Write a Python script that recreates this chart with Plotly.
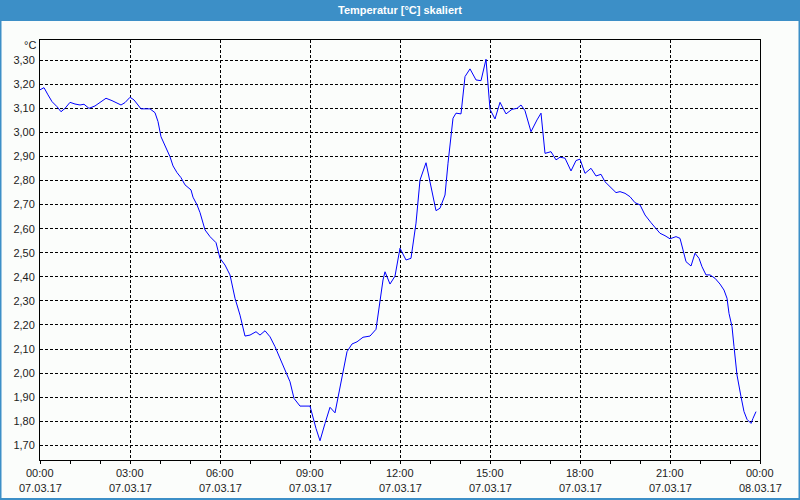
import plotly.graph_objects as go

# ---- data -------------------------------------------------------------
date_str = "2017-03-07"
times = ["00:00","00:08","00:16","00:24","00:34","00:42","00:50","01:00","01:10","01:20",
         "01:28","01:38","01:50","02:02","02:12","02:24","02:32","02:42","02:50","03:00",
         "03:08","03:14","03:22","03:30","03:40","03:50","03:56","04:02","04:10","04:20",
         "04:26","04:34","04:42","04:50","05:02","05:06","05:14","05:20","05:30","05:40",
         "05:52","06:00","06:10","06:20","06:30","06:40","06:50","07:00","07:12","07:20",
         "07:30","07:40","07:50","08:00","08:10","08:20","08:28","08:40","08:50","09:00",
         "09:12","09:20","09:30","09:40","09:50","09:56","10:06","10:14","10:24","10:34",
         "10:46","11:00","11:12","11:18","11:26","11:30","11:40","11:50","12:00","12:12",
         "12:22","12:32","12:40","12:52","13:00","13:12","13:20","13:30","13:36","13:46",
         "13:52","14:02","14:10","14:20","14:32","14:42","14:52","15:00","15:10","15:20",
         "15:32","15:44","15:54","16:02","16:10","16:22","16:34","16:42","16:50","17:02",
         "17:12","17:20","17:30","17:42","17:52","18:00","18:10","18:22","18:32","18:42",
         "18:50","19:00","19:12","19:20","19:30","19:40","19:50","20:00","20:10","20:22",
         "20:32","20:40","20:50","21:00","21:12","21:20","21:26","21:32","21:42","21:50",
         "21:58","22:04","22:12","22:20","22:30","22:40","22:48","22:54","22:58","23:04",
         "23:08","23:14","23:22","23:28","23:34","23:42","23:46","23:52"]
temps = [3.177,3.186,3.156,3.128,3.107,3.086,3.100,3.125,3.118,3.114,
         3.117,3.100,3.110,3.128,3.142,3.132,3.125,3.114,3.124,3.146,
         3.135,3.121,3.098,3.098,3.098,3.082,3.045,2.982,2.944,2.899,
         2.861,2.833,2.812,2.782,2.761,2.731,2.699,2.667,2.595,2.567,
         2.542,2.477,2.449,2.408,2.311,2.241,2.154,2.158,2.172,2.158,
         2.176,2.151,2.110,2.061,2.013,1.964,1.895,1.863,1.863,1.863,
         1.770,1.719,1.791,1.858,1.835,1.902,2.013,2.089,2.121,2.130,
         2.149,2.154,2.182,2.276,2.387,2.421,2.370,2.403,2.519,2.470,
         2.477,2.623,2.802,2.874,2.795,2.675,2.685,2.740,2.872,3.059,
         3.080,3.077,3.232,3.264,3.218,3.215,3.304,3.096,3.056,3.125,
         3.077,3.096,3.100,3.114,3.090,3.003,3.052,3.080,2.913,2.920,
         2.886,2.897,2.893,2.840,2.883,2.889,2.830,2.851,2.819,2.826,
         2.795,2.775,2.750,2.754,2.747,2.733,2.708,2.699,2.657,2.625,
         2.598,2.581,2.571,2.558,2.567,2.560,2.512,2.463,2.445,2.498,
         2.477,2.442,2.408,2.408,2.394,2.370,2.345,2.311,2.248,2.193,
         2.110,1.992,1.902,1.840,1.808,1.791,1.812,1.840]

x_tick_vals = ["2017-03-07 00:00","2017-03-07 03:00","2017-03-07 06:00","2017-03-07 09:00",
               "2017-03-07 12:00","2017-03-07 15:00","2017-03-07 18:00","2017-03-07 21:00",
               "2017-03-08 00:00"]
x_tick_time = ["00:00","03:00","06:00","09:00","12:00","15:00","18:00","21:00","00:00"]
x_tick_date = ["07.03.17","07.03.17","07.03.17","07.03.17","07.03.17","07.03.17",
               "07.03.17","07.03.17","08.03.17"]
y_tick_vals = [1.7,1.8,1.9,2.0,2.1,2.2,2.3,2.4,2.5,2.6,2.7,2.8,2.9,3.0,3.1,3.2,3.3]
y_tick_text = ["1,70","1,80","1,90","2,00","2,10","2,20","2,30","2,40","2,50","2,60",
               "2,70","2,80","2,90","3,00","3,10","3,20","3,30"]

title_text = "Temperatur [°C] skaliert"
unit_text = "°C"

# ---- figure -----------------------------------------------------------
W, H = 800, 500
ML, MR, MT, MB = 40, 40, 40, 40
PW, PH = W - ML - MR, H - MT - MB

def px_x(p):  # pixel x -> paper
    return (p - ML) / PW

def px_y(p):  # pixel y (from top) -> paper
    return (H - MB - p) / PH

x_full = [f"{date_str} {t}" for t in times]

fig = go.Figure()
fig.add_trace(go.Scatter(x=x_full, y=temps, mode="lines",
                         line=dict(color="#0000ff", width=1), hoverinfo="skip"))

tick_font = dict(family="Tahoma, 'Liberation Sans', Arial, sans-serif", size=11, color="#1c1c1c")
grid_common = dict(showgrid=True, gridcolor="#000000", gridwidth=1, griddash="3px,2px",
                   showline=True, linecolor="#000000", linewidth=1, mirror=True,
                   zeroline=False, automargin=False)

annotations = [
    dict(text=unit_text, xref="paper", yref="paper", x=px_x(38), y=px_y(45),
         xanchor="right", yanchor="middle", showarrow=False, font=tick_font),
]
# two-row x tick labels (time / date), placed on the date axis
for xv, tt, dd in zip(x_tick_vals, x_tick_time, x_tick_date):
    annotations.append(dict(text=tt, xref="x", yref="paper", x=xv, y=px_y(473),
                            xanchor="center", yanchor="middle", showarrow=False,
                            font=tick_font))
    annotations.append(dict(text=dd, xref="x", yref="paper", x=xv, y=px_y(488),
                            xanchor="center", yanchor="middle", showarrow=False,
                            font=tick_font))

fig.update_layout(
    width=W, height=H,
    margin=dict(l=ML, r=MR, t=MT, b=MB, pad=0, autoexpand=False),
    paper_bgcolor="#fbfdfb", plot_bgcolor="#fbfdfb",
    showlegend=False,
    font=tick_font,
    xaxis=dict(type="date", range=["2017-03-07 00:00", "2017-03-08 00:00"],
               tickmode="array", tickvals=x_tick_vals, showticklabels=False,
               ticks="outside", ticklen=3, tickcolor="#000000", tickwidth=1,
               minor=dict(dtick=3600000, tick0="2017-03-07 00:00", ticks="outside",
                          ticklen=3, tickcolor="#000000", showgrid=False),
               **grid_common),
    yaxis=dict(range=[1.639, 3.384], tickmode="array", tickvals=y_tick_vals,
               ticktext=y_tick_text, ticks="", tickfont=tick_font,
               ticklabelstandoff=2, **grid_common),
    title=dict(text=f"<b>{title_text}</b>", x=0.5, xanchor="center",
               y=1 - 10.5 / H, yanchor="middle", yref="container",
               font=dict(family="Tahoma, 'Liberation Sans', Arial, sans-serif",
                         size=11, color="#ffffff")),
    shapes=[
        dict(type="rect", xref="paper", yref="paper", layer="below",
             x0=px_x(0), x1=px_x(W), y0=px_y(21), y1=px_y(-2),
             fillcolor="#3c8fc7", line=dict(width=0)),
        dict(type="rect", xref="paper", yref="paper",
             x0=px_x(0.5), x1=px_x(W - 0.5), y0=px_y(H - 1), y1=px_y(-2),
             fillcolor="rgba(0,0,0,0)", line=dict(color="#3c8fc7", width=2)),
    ],
    annotations=annotations,
)

fig.write_html("out.html")
